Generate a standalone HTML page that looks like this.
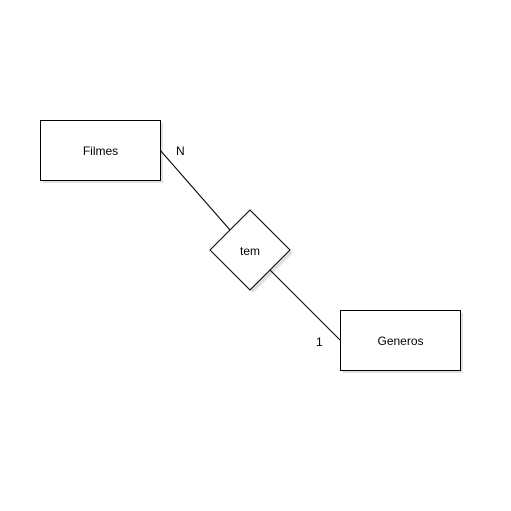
<!DOCTYPE html>
<html><head><style>
html,body{margin:0;padding:0;background:#fff;}
svg{display:block;}
text{font-family:"Liberation Sans",Arial,sans-serif;font-size:12px;fill:#000;}
</style></head><body>
<svg width="511" height="511" viewBox="0 0 511 511" xmlns="http://www.w3.org/2000/svg">
<rect x="0" y="0" width="511" height="511" fill="#fff"/>
<!-- shadows -->
<rect x="43" y="123" width="120" height="60" fill="#000" opacity="0.12"/>
<rect x="343" y="313" width="120" height="60" fill="#000" opacity="0.12"/>
<polygon points="253,213 293,253 253,293 213,253" fill="#000" opacity="0.12"/>
<!-- lines -->
<line x1="160" y1="150" x2="230" y2="230" stroke="#000" stroke-width="1"/>
<line x1="270" y1="270" x2="340" y2="340" stroke="#000" stroke-width="1"/>
<!-- shapes -->
<rect x="40.5" y="120.5" width="120" height="60" fill="#fff" stroke="#000"/>
<rect x="340.5" y="310.5" width="120" height="60" fill="#fff" stroke="#000"/>
<polygon points="250,210 290,250 250,290 210,250" fill="#fff" stroke="#000"/>
<text x="100.5" y="155" text-anchor="middle">Filmes</text>
<text x="400.5" y="345" text-anchor="middle">Generos</text>
<text x="250" y="255" text-anchor="middle">tem</text>
<text x="176" y="155">N</text>
<text x="316" y="346">1</text>
</svg>
</body></html>
